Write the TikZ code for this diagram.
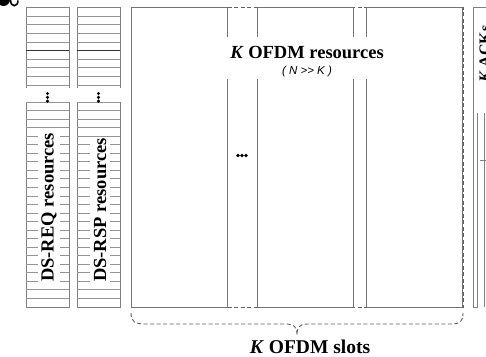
\documentclass[tikz,border=0pt]{standalone}
\usepackage{fontspec}
\setmainfont{Liberation Serif}
\newfontfamily\sansfnt{Liberation Sans}
\begin{document}
\begin{tikzpicture}[x=1pt,y=-1pt,
  gridline/.style={draw=black!42, line width=0.8pt},
  darkline/.style={draw=black!80, line width=0.9pt},
  coledge/.style={draw=black!50, line width=0.9pt},
  slotbox/.style={draw=black!55, line width=0.9pt},
  dashbox/.style={draw=black!62, line width=0.9pt, dash pattern=on 4pt off 2.5pt},
  biglbl/.style={font=\fontsize{18.5}{20}\selectfont\bfseries, inner sep=0pt},
  dotmark/.style={fill=black},
]
\useasboundingbox (0,0) rectangle (486,356);

% cut-off glyphs at the top left
\fill[black] (3.5,-0.5) circle (6.5);
\draw[black, line width=1.6pt] (10.5,0) .. controls (10.5,7.5) and (18,7.5) .. (18,0.5);

% left resource columns
\foreach \xa in {26,77}{
  \pgfmathsetmacro{\xb}{\xa+43}
  \draw[coledge] (\xa,88) -- (\xa,7.5) -- (\xb,7.5) -- (\xb,88);
  \foreach \i in {1,...,9}{
    \ifnum\i=5
      \draw[darkline] (\xa,{7.5+8.6*\i}) -- (\xb,{7.5+8.6*\i});
    \else
      \draw[gridline] (\xa,{7.5+8.6*\i}) -- (\xb,{7.5+8.6*\i});
    \fi
  }
  \draw[coledge] (\xa,102) -- (\xa,307) -- (\xb,307) -- (\xb,102);
  \foreach \k in {0,...,23}{
    \draw[gridline] (\xa,{102+8.54*\k}) -- (\xb,{102+8.54*\k});
  }
  \foreach \d in {93.5,97.3,101.1}{
    \fill[dotmark] ({\xa+21.5},\d) circle (1.7);
  }
}
\node[biglbl, rotate=90, anchor=west, fill=white, inner xsep=1pt, inner ysep=3.5pt] (req) at (49,283) {DS-REQ resources};
\node[biglbl, rotate=90, anchor=west, fill=white, inner xsep=1pt, inner ysep=3.5pt] (rsp) at (100,283) {DS-RSP resources};

% OFDM slots
\draw[dashbox] (131,7) rectangle (463,307);
\draw[slotbox] (131,7) rectangle (227,307);
\draw[slotbox] (257,7) rectangle (353,307);
\draw[slotbox] (366,7) rectangle (462,307);
\fill[white] (224,37) rectangle (370,79);
\node[biglbl, anchor=base] (res) at (307,58) {\textit{K} OFDM resources};
\node[font=\fontsize{11.5}{13}\selectfont\sansfnt\itshape, inner sep=0pt, anchor=base] (nk) at (307,74) {( N >> K )};
\foreach \d in {238,242,246}{
  \fill[dotmark] (\d,155.5) circle (1.8);
}

% brace
\coordinate (bl) at (131,313);
\coordinate (br) at (463,313);
\coordinate (bt) at (297,335);
\draw[dashbox] (bl) .. controls (131,322) and (135,324) .. (146,324) -- (287,324)
  .. controls (294,324) and (297,327) .. (bt)
  .. controls (297,327) and (300,324) .. (307,324) -- (450,324)
  .. controls (460,324) and (463,322) .. (br);
\node[font=\fontsize{19.5}{21}\selectfont\bfseries, inner sep=0pt, anchor=base] (slots) at (310,353) {\textit{K} OFDM slots};

% ACK column at the right edge (cut off, as in the reference)
\draw[coledge] (500,7) -- (473,7) -- (473,307) -- (477,307) -- (477,113);
\draw[coledge] (484.5,113) -- (484.5,307);
\draw[coledge] (480,160) -- (486,160);
\node[font=\fontsize{16}{18}\selectfont\bfseries, rotate=90, anchor=base, inner sep=0pt] (ack) at (490,54) {\textit{K} ACKs};
\end{tikzpicture}
\end{document}
